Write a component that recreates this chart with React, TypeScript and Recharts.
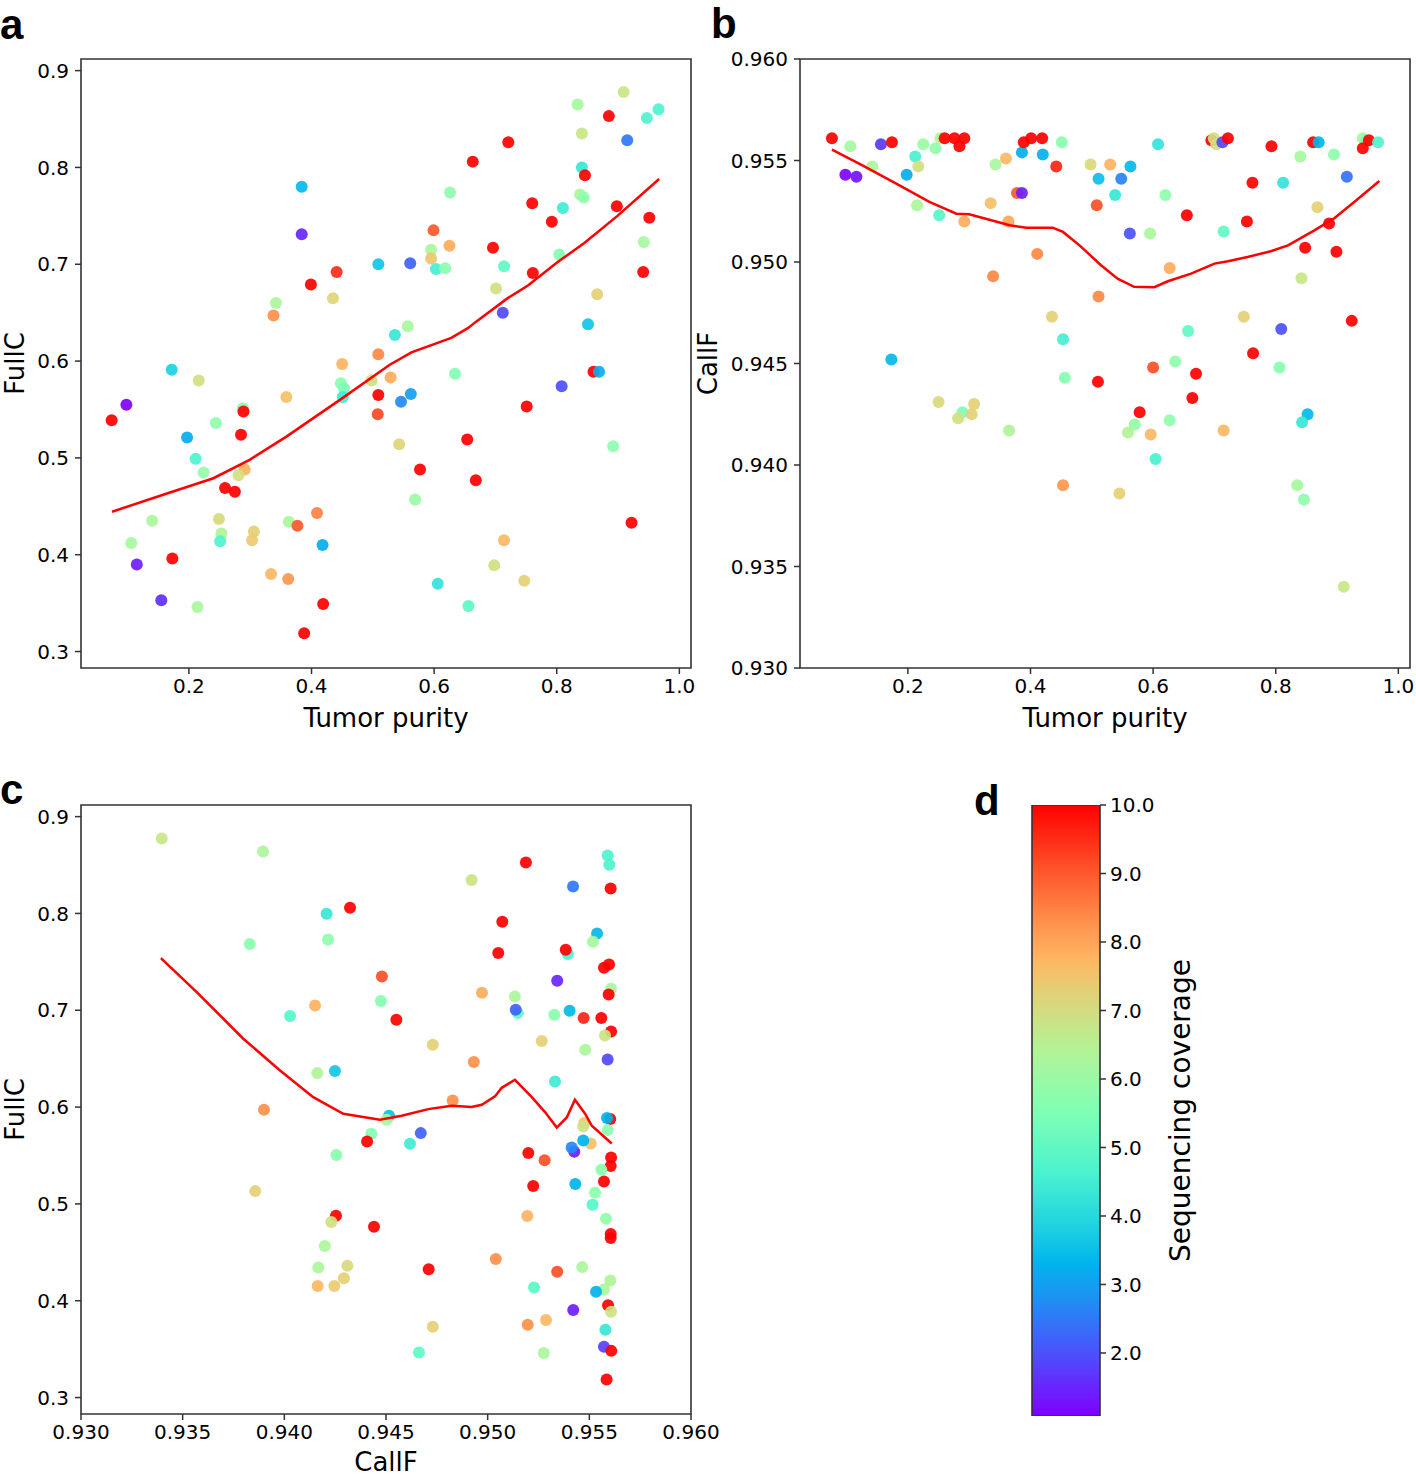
import { ScatterChart, Scatter, XAxis, YAxis, ReferenceArea, BarChart, Bar, Label } from 'recharts'

const COV_MIN = 1.08
const COV_MAX = 10

const purityTicks = [0.2, 0.4, 0.6, 0.8, 1.0]
const fullCTicks = [0.3, 0.4, 0.5, 0.6, 0.7, 0.8, 0.9]
const callFTicks = [0.93, 0.935, 0.94, 0.945, 0.95, 0.955, 0.96]
const coverageTicks = [2, 3, 4, 5, 6, 7, 8, 9, 10]

const purityDomain: [number, number] = [0.024, 1.019]
const fullCDomain: [number, number] = [0.283, 0.912]
const callFDomain: [number, number] = [0.93, 0.96]

// [tumor purity, FullC, coverage]
const purityFullC: [number, number, number][] = [
  [0.384, 0.78, 3.4], [0.384, 0.731, 1.5], [0.509, 0.7, 3.6], [0.441, 0.692, 9.5],
  [0.399, 0.679, 10], [0.435, 0.665, 7.2], [0.342, 0.66, 6.3], [0.338, 0.647, 8.3],
  [0.509, 0.607, 8.4], [0.45, 0.597, 7.8], [0.172, 0.591, 3.8], [0.909, 0.878, 6.8],
  [0.834, 0.865, 6.2], [0.966, 0.86, 4.7], [0.947, 0.851, 4.7], [0.885, 0.853, 10],
  [0.841, 0.835, 6.8], [0.915, 0.828, 2.5], [0.721, 0.826, 10], [0.663, 0.806, 10],
  [0.841, 0.8, 4.3], [0.846, 0.792, 10], [0.626, 0.774, 5.8], [0.838, 0.772, 6.3],
  [0.844, 0.769, 5.8], [0.76, 0.763, 10], [0.81, 0.758, 4.4], [0.898, 0.76, 10],
  [0.792, 0.744, 10], [0.951, 0.748, 10], [0.599, 0.735, 9.0], [0.595, 0.715, 6.3],
  [0.625, 0.719, 7.9], [0.595, 0.706, 7.5], [0.561, 0.701, 2.2], [0.603, 0.695, 4.5],
  [0.618, 0.696, 5.7], [0.696, 0.717, 10], [0.714, 0.698, 5.0], [0.761, 0.691, 10],
  [0.804, 0.71, 5.6], [0.942, 0.723, 6.2], [0.941, 0.692, 10], [0.701, 0.675, 7.0],
  [0.866, 0.669, 7.3], [0.712, 0.65, 1.9], [0.851, 0.638, 3.6], [0.536, 0.627, 4.3],
  [0.557, 0.636, 6.2], [0.216, 0.58, 7.0], [0.359, 0.563, 7.6], [0.448, 0.577, 5.7],
  [0.453, 0.572, 5.5], [0.451, 0.563, 4.4], [0.498, 0.58, 7.0], [0.509, 0.565, 10],
  [0.508, 0.545, 9.2], [0.529, 0.583, 7.9], [0.098, 0.555, 1.1], [0.074, 0.539, 10],
  [0.288, 0.551, 5.6], [0.289, 0.548, 10], [0.244, 0.536, 5.8], [0.197, 0.521, 3.2],
  [0.285, 0.524, 10], [0.211, 0.499, 4.7], [0.224, 0.485, 5.9], [0.291, 0.488, 7.8],
  [0.281, 0.482, 7.0], [0.259, 0.469, 10], [0.275, 0.465, 10], [0.14, 0.435, 6.3],
  [0.249, 0.437, 7.1], [0.253, 0.422, 6.4], [0.251, 0.414, 4.7], [0.306, 0.424, 7.3],
  [0.303, 0.415, 7.4], [0.106, 0.412, 6.2], [0.115, 0.39, 1.4], [0.173, 0.396, 10],
  [0.363, 0.434, 6.3], [0.377, 0.43, 9.0], [0.409, 0.443, 8.5], [0.418, 0.41, 3.2],
  [0.334, 0.38, 7.7], [0.362, 0.375, 8.2], [0.155, 0.353, 1.6], [0.214, 0.346, 6.3],
  [0.419, 0.349, 10], [0.388, 0.319, 10], [0.634, 0.587, 5.6], [0.562, 0.566, 3.0],
  [0.546, 0.558, 2.7], [0.808, 0.574, 2.0], [0.86, 0.589, 10], [0.869, 0.589, 3.2],
  [0.751, 0.553, 10], [0.543, 0.514, 7.2], [0.654, 0.519, 10], [0.892, 0.512, 5.8],
  [0.577, 0.488, 10], [0.668, 0.477, 10], [0.569, 0.457, 6.0], [0.922, 0.433, 10],
  [0.714, 0.415, 7.7], [0.698, 0.389, 7.0], [0.747, 0.373, 7.3], [0.606, 0.37, 4.2],
  [0.656, 0.347, 4.9],
]

// [tumor purity, CallF, coverage]
const purityCallF: [number, number, number][] = [
  [0.0761, 0.9561, 10], [0.106, 0.9557, 6.2], [0.156, 0.9558, 1.7], [0.174, 0.9559, 10],
  [0.098, 0.9543, 1.1], [0.116, 0.9542, 1.3], [0.142, 0.9547, 6.3], [0.198, 0.9543, 3.2],
  [0.212, 0.9552, 4.6], [0.217, 0.9547, 7.0], [0.225, 0.9558, 6.0], [0.245, 0.9556, 5.8],
  [0.253, 0.9561, 6.4], [0.26, 0.9561, 10], [0.276, 0.9561, 10], [0.292, 0.9561, 10],
  [0.284, 0.9557, 10], [0.215, 0.9528, 6.3], [0.251, 0.9523, 4.8], [0.292, 0.952, 7.9],
  [0.335, 0.9529, 7.6], [0.343, 0.9548, 6.3], [0.36, 0.9551, 7.7], [0.364, 0.952, 8.0],
  [0.378, 0.9534, 9.0], [0.386, 0.9534, 1.4], [0.386, 0.9554, 3.2], [0.389, 0.9559, 10],
  [0.401, 0.9561, 10], [0.419, 0.9561, 10], [0.42, 0.9553, 3.3], [0.451, 0.9559, 5.7],
  [0.442, 0.9547, 9.6], [0.498, 0.9548, 7.1], [0.511, 0.9541, 3.5], [0.508, 0.9528, 9.1],
  [0.411, 0.9504, 8.4], [0.339, 0.9493, 8.4], [0.511, 0.9483, 8.4], [0.435, 0.9473, 7.3],
  [0.453, 0.9462, 4.5], [0.173, 0.9452, 3.4], [0.53, 0.9548, 7.8], [0.563, 0.9547, 3.4],
  [0.548, 0.9541, 2.6], [0.538, 0.9533, 4.3], [0.608, 0.9558, 4.2], [0.62, 0.9533, 5.8],
  [0.562, 0.9514, 2.0], [0.595, 0.9514, 6.3], [0.655, 0.9523, 10], [0.627, 0.9497, 7.9],
  [0.695, 0.956, 10], [0.699, 0.9561, 7.0], [0.703, 0.9558, 7.0], [0.713, 0.9559, 1.9],
  [0.722, 0.9561, 10], [0.793, 0.9557, 10], [0.762, 0.9539, 10], [0.812, 0.9539, 4.2],
  [0.753, 0.952, 10], [0.715, 0.9515, 5.0], [0.861, 0.9559, 10], [0.87, 0.9559, 3.3],
  [0.84, 0.9552, 6.2], [0.895, 0.9553, 5.8], [0.916, 0.9542, 2.4], [0.868, 0.9527, 7.3],
  [0.887, 0.9519, 10], [0.848, 0.9507, 10], [0.899, 0.9505, 10], [0.842, 0.9492, 6.8],
  [0.942, 0.9561, 6.3], [0.947, 0.956, 5.5], [0.952, 0.956, 10], [0.942, 0.9556, 10],
  [0.967, 0.9559, 4.7], [0.924, 0.9471, 10], [0.748, 0.9473, 7.3], [0.809, 0.9467, 2.0],
  [0.657, 0.9466, 5.0], [0.763, 0.9455, 10], [0.6, 0.9448, 9.1], [0.636, 0.9451, 5.8],
  [0.806, 0.9448, 5.6], [0.456, 0.9443, 5.6], [0.51, 0.9441, 10], [0.25, 0.9431, 7.1],
  [0.289, 0.9426, 5.5], [0.282, 0.9423, 7.0], [0.308, 0.943, 7.3], [0.304, 0.9425, 7.3],
  [0.365, 0.9417, 6.4], [0.453, 0.939, 8.2], [0.67, 0.9445, 10], [0.664, 0.9433, 10],
  [0.578, 0.9426, 10], [0.57, 0.942, 5.9], [0.559, 0.9416, 6.4], [0.596, 0.9415, 7.7],
  [0.627, 0.9422, 5.8], [0.715, 0.9417, 7.7], [0.604, 0.9403, 4.6], [0.545, 0.9386, 7.3],
  [0.852, 0.9425, 3.4], [0.843, 0.9421, 4.3], [0.835, 0.939, 6.2], [0.846, 0.9383, 5.8],
  [0.911, 0.934, 6.8],
]

// [CallF, FullC, coverage]
const callFFullC: [number, number, number][] = [
  [0.93397, 0.8775, 6.8], [0.93895, 0.864, 6.3], [0.94208, 0.7997, 4.3], [0.94323, 0.8059, 10],
  [0.9383, 0.7684, 5.7], [0.94215, 0.7732, 5.8], [0.9448, 0.7349, 9.1], [0.94475, 0.7095, 5.6],
  [0.94151, 0.705, 7.8], [0.94028, 0.694, 4.8], [0.94162, 0.6351, 6.4], [0.94249, 0.6372, 3.6],
  [0.939, 0.5972, 8.3], [0.9559, 0.8599, 4.7], [0.95598, 0.8503, 4.7], [0.95188, 0.8527, 10],
  [0.94921, 0.8345, 6.9], [0.9542, 0.8279, 2.5], [0.95605, 0.8258, 10], [0.95072, 0.7914, 10],
  [0.95052, 0.7591, 10], [0.95394, 0.7581, 4.6], [0.95384, 0.7625, 10], [0.95538, 0.7793, 3.4],
  [0.95518, 0.7708, 6.2], [0.95572, 0.7439, 10], [0.95597, 0.7473, 10], [0.95607, 0.7222, 6.2],
  [0.95595, 0.7163, 10], [0.95342, 0.7305, 1.5], [0.94972, 0.7181, 7.9], [0.95134, 0.7143, 6.3],
  [0.95148, 0.6971, 5.0], [0.95138, 0.7005, 2.2], [0.95328, 0.6954, 5.7], [0.95403, 0.6995, 3.4],
  [0.95472, 0.6919, 9.6], [0.95559, 0.6919, 10], [0.95607, 0.6781, 10], [0.95577, 0.674, 6.9],
  [0.94551, 0.6902, 10], [0.9473, 0.6644, 7.3], [0.94932, 0.6465, 8.3], [0.95266, 0.6682, 7.3],
  [0.9548, 0.6592, 6.3], [0.9559, 0.6492, 1.9], [0.95331, 0.6264, 4.4], [0.94828, 0.6068, 8.3],
  [0.94515, 0.591, 3.5], [0.94503, 0.5869, 6.2], [0.94428, 0.5724, 5.6], [0.94407, 0.5645, 10],
  [0.94256, 0.5504, 5.7], [0.93857, 0.5132, 7.3], [0.94254, 0.4877, 10], [0.94231, 0.4812, 7.0],
  [0.94441, 0.4763, 10], [0.94199, 0.4564, 6.3], [0.94167, 0.4343, 6.3], [0.9431, 0.4361, 7.1],
  [0.94293, 0.4233, 7.3], [0.94164, 0.4151, 7.7], [0.94246, 0.4151, 7.4], [0.94671, 0.5731, 2.2],
  [0.94618, 0.5621, 4.4], [0.95603, 0.5876, 10], [0.95587, 0.5886, 3.3], [0.9559, 0.5762, 5.7],
  [0.95475, 0.5835, 7.5], [0.9547, 0.58, 6.9], [0.95507, 0.5624, 7.6], [0.9547, 0.5655, 3.3],
  [0.95426, 0.5538, 1.4], [0.95413, 0.5583, 2.7], [0.952, 0.5525, 10], [0.9528, 0.5452, 9.1],
  [0.95607, 0.5479, 10], [0.95605, 0.5391, 10], [0.95559, 0.5352, 5.7], [0.95572, 0.5231, 10],
  [0.95431, 0.5205, 3.3], [0.95224, 0.5184, 10], [0.95528, 0.5115, 5.8], [0.95516, 0.4991, 4.8],
  [0.95582, 0.4846, 5.9], [0.95195, 0.4874, 7.8], [0.95605, 0.4688, 10], [0.95605, 0.4647, 10],
  [0.9471, 0.4326, 10], [0.9504, 0.443, 8.3], [0.95342, 0.4299, 9.1], [0.95228, 0.4136, 4.9],
  [0.95465, 0.4347, 6.3], [0.95603, 0.4209, 6.4], [0.95572, 0.4116, 6.3], [0.95533, 0.4092, 3.3],
  [0.95592, 0.3954, 10], [0.95607, 0.3885, 6.9], [0.95421, 0.3903, 1.4], [0.9473, 0.373, 7.3],
  [0.95197, 0.3751, 8.3], [0.95287, 0.38, 7.7], [0.95579, 0.3699, 4.3], [0.94662, 0.3465, 5.0],
  [0.95276, 0.3459, 6.3], [0.95572, 0.3524, 1.8], [0.95608, 0.3482, 10], [0.95585, 0.3186, 10],
]

// lowess fits
const lowessA: [number, number][] = [
  [0.0746, 0.4444], [0.158, 0.462], [0.24, 0.479], [0.299, 0.498], [0.359, 0.522],
  [0.451, 0.562], [0.527, 0.596], [0.563, 0.609], [0.628, 0.624], [0.655, 0.634],
  [0.669, 0.641], [0.72, 0.665], [0.753, 0.678], [0.801, 0.702], [0.845, 0.722],
  [0.899, 0.75], [0.967, 0.788],
]

const lowessB: [number, number][] = [
  [0.0761, 0.95554], [0.1266, 0.95475], [0.181, 0.95386], [0.235, 0.95296], [0.279, 0.95238],
  [0.3, 0.95235], [0.366, 0.95181], [0.393, 0.95169], [0.436, 0.95169], [0.453, 0.95148],
  [0.48, 0.95082], [0.515, 0.94984], [0.542, 0.94918], [0.569, 0.94878], [0.602, 0.94876],
  [0.624, 0.94905], [0.662, 0.94943], [0.7, 0.94992], [0.722, 0.95004], [0.754, 0.95025],
  [0.792, 0.95053], [0.82, 0.95082], [0.863, 0.95156], [0.896, 0.95217], [0.928, 0.95296],
  [0.969, 0.95399],
]

const lowessC: [number, number][] = [
  [0.93393, 0.7539], [0.93569, 0.7188], [0.93798, 0.6706], [0.93979, 0.6378], [0.94142, 0.6103],
  [0.9429, 0.5931], [0.9447, 0.5869], [0.94577, 0.591], [0.94708, 0.5979], [0.94823, 0.6013],
  [0.94921, 0.6], [0.94971, 0.6024], [0.95036, 0.611], [0.95069, 0.6199], [0.95134, 0.6282],
  [0.95217, 0.6103], [0.95282, 0.5948], [0.9534, 0.5789], [0.95389, 0.5893], [0.95429, 0.6075],
  [0.95479, 0.5931], [0.95512, 0.5807], [0.9561, 0.5624],
]

// matplotlib "rainbow" colormap
function rainbow(v: number) {
  const t = Math.min(1, Math.max(0, (v - COV_MIN) / (COV_MAX - COV_MIN)))
  const r = Math.min(1, Math.abs(2 * t - 0.5))
  const g = Math.max(0, Math.sin(Math.PI * t))
  const b = Math.max(0, Math.cos((Math.PI * t) / 2))
  return `rgb(${Math.round(r * 255)},${Math.round(g * 255)},${Math.round(b * 255)})`
}

const tickStyle = { fontSize: 20, fill: '#000' }
const titleStyle = { fontSize: 26, fill: '#000' }

const Dot = (p: any) => (
  <circle cx={p.cx} cy={p.cy} r={6} fill={rainbow(p.payload.c)} fillOpacity={0.92} />
)
const NoDot = () => <g />

interface PanelProps {
  points: [number, number, number][]
  curve: [number, number][]
  xDomain: [number, number]
  yDomain: [number, number]
  xTicks: number[]
  yTicks: number[]
  xDigits: number
  yDigits: number
  xLabel: string
  yLabel: string
  width: number
  height: number
  yAxisWidth: number
  xAxisHeight: number
  marginRight: number
  xLabelOffset: number
  yLabelOffset: number
}

function Panel(props: PanelProps) {
  const {
    points, curve, xDomain, yDomain, xTicks, yTicks, xDigits, yDigits, xLabel, yLabel,
    width, height, yAxisWidth, xAxisHeight, marginRight, xLabelOffset, yLabelOffset,
  } = props
  const dots = points.map(([x, y, c]) => ({ x, y, c }))
  const line = curve.map(([x, y]) => ({ x, y }))
  return (
    <ScatterChart width={width} height={height} margin={{ top: 59, right: marginRight, bottom: 0, left: 0 }}>
      <XAxis
        type="number"
        dataKey="x"
        domain={xDomain}
        ticks={xTicks}
        interval={0}
        allowDataOverflow
        tickFormatter={(v: number) => v.toFixed(xDigits)}
        tick={tickStyle}
        tickSize={6}
        tickMargin={5}
        axisLine={false}
        tickLine={{ stroke: '#333', strokeWidth: 1.5 }}
        height={xAxisHeight}
      >
        <Label value={xLabel} position="insideBottom" offset={xLabelOffset} style={titleStyle} />
      </XAxis>
      <YAxis
        type="number"
        dataKey="y"
        domain={yDomain}
        ticks={yTicks}
        interval={0}
        allowDataOverflow
        tickFormatter={(v: number) => v.toFixed(yDigits)}
        tick={tickStyle}
        tickSize={6}
        tickMargin={6}
        axisLine={false}
        tickLine={{ stroke: '#333', strokeWidth: 1.5 }}
        width={yAxisWidth}
      >
        <Label
          value={yLabel}
          angle={-90}
          position="insideLeft"
          offset={yLabelOffset}
          style={{ ...titleStyle, textAnchor: 'middle' }}
        />
      </YAxis>
      <ReferenceArea
        x1={xDomain[0]}
        x2={xDomain[1]}
        y1={yDomain[0]}
        y2={yDomain[1]}
        fill="none"
        stroke="#333"
        strokeWidth={1.6}
        ifOverflow="visible"
      />
      <Scatter data={dots} shape={Dot} isAnimationActive={false} />
      <Scatter
        data={line}
        shape={NoDot}
        line={{ stroke: '#ff0000', strokeWidth: 2.5 }}
        lineType="joint"
        isAnimationActive={false}
      />
    </ScatterChart>
  )
}

const gradientStops = [0, 0.1, 0.2, 0.25, 0.3, 0.4, 0.5, 0.6, 0.7, 0.75, 0.8, 0.9, 1]
const colorbarData = [{ name: 'coverage', v: COV_MAX }]

function Colorbar() {
  return (
    <BarChart
      width={240}
      height={650}
      data={colorbarData}
      barCategoryGap={0}
      margin={{ top: 15, right: 80, bottom: 24, left: 32 }}
    >
      <defs>
        <linearGradient id="cbGrad" x1="0" y1="1" x2="0" y2="0">
          {gradientStops.map((s) => (
            <stop key={s} offset={`${s * 100}%`} stopColor={rainbow(COV_MIN + s * (COV_MAX - COV_MIN))} />
          ))}
        </linearGradient>
      </defs>
      <XAxis dataKey="name" hide />
      <YAxis
        orientation="right"
        type="number"
        domain={[COV_MIN, COV_MAX]}
        ticks={coverageTicks}
        interval={0}
        allowDataOverflow
        tickFormatter={(v: number) => v.toFixed(1)}
        tick={{ fontSize: 20, fill: '#000' }}
        tickSize={6}
        tickMargin={4}
        axisLine={false}
        tickLine={{ stroke: '#333', strokeWidth: 1.5 }}
        width={60}
      >
        <Label
          value="Sequencing coverage"
          angle={-90}
          position="right"
          offset={20}
          style={{ fontSize: 28, fill: '#000', textAnchor: 'middle' }}
        />
      </YAxis>
      <Bar dataKey="v" fill="url(#cbGrad)" stroke="#333" strokeWidth={1.6} isAnimationActive={false} />
    </BarChart>
  )
}

const letterStyle = {
  position: 'absolute' as const,
  fontFamily: "'Liberation Sans', Arial, sans-serif",
  fontWeight: 700,
  fontSize: 42,
  lineHeight: '42px',
  color: '#000',
}

export default function App() {
  return (
    <div
      style={{
        position: 'absolute',
        left: 0,
        top: 0,
        width: 1416,
        height: 1477,
        overflow: 'hidden',
        background: '#fff',
        fontFamily: "'DejaVu Sans', sans-serif",
      }}
    >
      <div style={{ position: 'absolute', left: 0, top: 0 }}>
        <Panel
          points={purityFullC}
          curve={lowessA}
          xDomain={purityDomain}
          yDomain={fullCDomain}
          xTicks={purityTicks}
          yTicks={fullCTicks}
          xDigits={1}
          yDigits={1}
          xLabel="Tumor purity"
          yLabel="FullC"
          width={710}
          height={745}
          yAxisWidth={81}
          xAxisHeight={77}
          marginRight={19}
          xLabelOffset={18}
          yLabelOffset={15}
        />
      </div>
      <div style={{ position: 'absolute', left: 690, top: 0 }}>
        <Panel
          points={purityCallF}
          curve={lowessB}
          xDomain={purityDomain}
          yDomain={callFDomain}
          xTicks={purityTicks}
          yTicks={callFTicks}
          xDigits={1}
          yDigits={3}
          xLabel="Tumor purity"
          yLabel="CallF"
          width={726}
          height={745}
          yAxisWidth={110}
          xAxisHeight={77}
          marginRight={6}
          xLabelOffset={18}
          yLabelOffset={18}
        />
      </div>
      <div style={{ position: 'absolute', left: 0, top: 746 }}>
        <Panel
          points={callFFullC}
          curve={lowessC}
          xDomain={callFDomain}
          yDomain={fullCDomain}
          xTicks={callFTicks}
          yTicks={fullCTicks}
          xDigits={3}
          yDigits={1}
          xLabel="CallF"
          yLabel="FullC"
          width={760}
          height={731}
          yAxisWidth={81}
          xAxisHeight={63}
          marginRight={69}
          xLabelOffset={6}
          yLabelOffset={15}
        />
      </div>
      <div style={{ position: 'absolute', left: 1000, top: 790 }}>
        <Colorbar />
      </div>
      <div style={{ ...letterStyle, left: 0, top: 4 }}>a</div>
      <div style={{ ...letterStyle, left: 711, top: 3 }}>b</div>
      <div style={{ ...letterStyle, left: 0, top: 769 }}>c</div>
      <div style={{ ...letterStyle, left: 974, top: 780 }}>d</div>
    </div>
  )
}
